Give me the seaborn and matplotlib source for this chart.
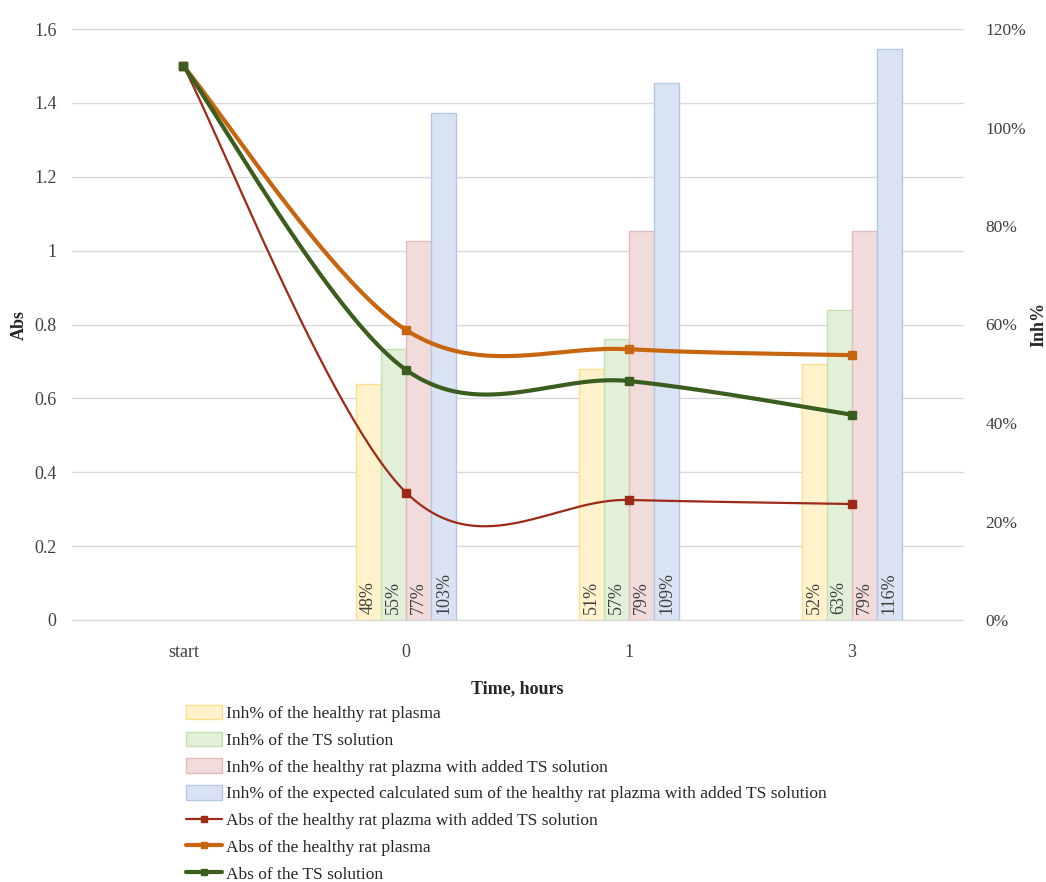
import numpy as np
import pandas as pd
import matplotlib
matplotlib.use("Agg")
import matplotlib.pyplot as plt
import seaborn as sns
from matplotlib.patches import Patch
from matplotlib.lines import Line2D

sns.set_theme(style="white")
plt.rcParams['font.family'] = ['Liberation Serif', 'DejaVu Serif']

# ---------------- data ----------------
categories = ["start", "0", "1", "3"]
bar_times = ["0", "1", "3"]
inh_healthy = [48, 51, 52]
inh_ts = [55, 57, 63]
inh_mix = [77, 79, 79]
inh_expected = [103, 109, 116]

abs_mix = [1.50, 0.345, 0.325, 0.314]
abs_healthy = [1.50, 0.785, 0.733, 0.717]
abs_ts = [1.50, 0.677, 0.647, 0.556]

abs_ticks = [0, 0.2, 0.4, 0.6, 0.8, 1.0, 1.2, 1.4, 1.6]
inh_ticks = [0, 20, 40, 60, 80, 100, 120]

bar_names = [
    "Inh% of the healthy rat plasma",
    "Inh% of the TS solution",
    "Inh% of the healthy rat plazma with added TS solution",
    "Inh% of the expected calculated sum of the healthy rat plazma with added TS solution",
]
line_names = [
    "Abs of the healthy rat plazma with added TS solution",
    "Abs of the healthy rat plasma",
    "Abs of the TS solution",
]

bar_face = ["#FFF2CC", "#E2F0D9", "#F2DCDB", "#DAE3F3"]
bar_edge = ["#FFE08A", "#C5E0B4", "#E2BCBC", "#B4C7E7"]
line_colors = ["#9C2A17", "#C8650F", "#3B5E1F"]
line_widths = [1.6, 3.0, 3.0]

# ---------------- figure ----------------
fig = plt.figure(figsize=(10.46, 8.82), dpi=100)
L, R = 72 / 1046, 963 / 1046
B, T = 1 - 620 / 882, 1 - 29 / 882
ax = fig.add_axes([L, B, R - L, T - B])   # bars (Inh%), ticks on right
ax2 = ax.twinx()                          # lines (Abs), ticks on left

rows = []
for name, vals in zip(bar_names, [inh_healthy, inh_ts, inh_mix, inh_expected]):
    for t, v in zip(bar_times, vals):
        rows.append({"time": t, "inh": v, "series": name})
df = pd.DataFrame(rows)

sns.barplot(data=df, x="time", y="inh", hue="series", order=categories,
            hue_order=bar_names, palette=bar_face, width=0.45, dodge=True,
            ax=ax, legend=False, zorder=2)

for ci, cont in enumerate(ax.containers):
    for p in cont.patches:
        p.set_facecolor(bar_face[ci])
        p.set_edgecolor(bar_edge[ci])
        p.set_linewidth(1.0)
        h = p.get_height()
        if np.isnan(h) or h == 0:
            continue
        ax.text(p.get_x() + p.get_width() / 2, 1.2, f"{int(round(h))}%",
                rotation=90, ha="center", va="bottom", fontsize=13,
                color="#404040", zorder=3)

ax.set_xlim(-0.5, 3.5)
ax.set_ylim(0, 120)
ax.yaxis.tick_right()
ax.yaxis.set_label_position("right")
ax.set_yticks(inh_ticks)
ax.set_yticklabels([f"{v}%" for v in inh_ticks])
ax.grid(False)
# horizontal gridlines follow the Abs axis ticks (drawn behind the bars)
for v in abs_ticks:
    ax.axhline(v / 1.6 * 120, color="#D9D9D9", lw=1.0, zorder=0, clip_on=False)
ax.tick_params(axis="y", which="both", length=0, labelsize=12.5,
               labelcolor="#404040", pad=16)
ax.tick_params(axis="x", length=0, labelsize=13, labelcolor="#404040", pad=17)
ax.set_xlabel("Time, hours", fontsize=13, fontweight="bold", labelpad=14)
ax.set_ylabel("Inh%", fontsize=13, fontweight="bold", rotation=90)
ax.yaxis.set_label_coords(1.076, 0.5)
for s in ax.spines.values():
    s.set_visible(False)


def smooth(xp, yp, n=60):
    """Cubic Bezier smoothing through the points (Catmull-Rom style)."""
    P = np.column_stack([np.asarray(xp, float), np.asarray(yp, float)])
    out = []
    for i in range(len(P) - 1):
        p0 = P[i - 1] if i > 0 else P[i]
        p1, p2 = P[i], P[i + 1]
        p3 = P[i + 2] if i + 2 < len(P) else P[i + 1]
        c1 = p1 + (p2 - p0) / 6
        c2 = p2 - (p3 - p1) / 6
        t = np.linspace(0, 1, n)[:, None]
        seg = ((1 - t) ** 3) * p1 + 3 * ((1 - t) ** 2) * t * c1 + 3 * (1 - t) * t ** 2 * c2 + t ** 3 * p2
        out.append(seg if i == 0 else seg[1:])
    out = np.vstack(out)
    return out[:, 0], out[:, 1]


xpos = np.arange(len(categories))
for vals, col, lw in zip([abs_mix, abs_healthy, abs_ts], line_colors, line_widths):
    sx, sy = smooth(xpos, vals)
    sns.lineplot(x=sx, y=sy, ax=ax2, color=col, lw=lw, sort=False,
                 estimator=None, legend=False)
    ax2.plot(xpos, vals, ls="none", marker="s", ms=6, color=col, mec=col)

ax2.set_ylim(0, 1.6)
ax2.set_xlim(-0.5, 3.5)
ax2.yaxis.tick_left()
ax2.yaxis.set_label_position("left")
ax2.set_yticks(abs_ticks)
ax2.set_yticklabels([f"{v:g}" for v in abs_ticks])
ax2.tick_params(axis="y", length=0, labelsize=13, labelcolor="#404040", pad=11)
ax2.set_ylabel("Abs", fontsize=13, fontweight="bold")
ax2.yaxis.set_label_coords(-0.05, 0.5)
ax2.grid(False)
for s in ax2.spines.values():
    s.set_visible(False)

handles = [Patch(facecolor=f, edgecolor=e, lw=1.0) for f, e in zip(bar_face, bar_edge)]
handles += [Line2D([0], [0], color=c, lw=lw, marker="s", ms=5, mec=c)
            for c, lw in zip(line_colors, line_widths)]
fig.legend(handles, bar_names + line_names, loc="upper left",
           bbox_to_anchor=(186 / 1046, 1 - 705 / 882), frameon=False,
           fontsize=12.5, handlelength=2.1, handleheight=0.9,
           handletextpad=0.2, labelspacing=0.55, borderaxespad=0,
           borderpad=0)

fig.savefig("out.png", dpi=100, facecolor="white")
